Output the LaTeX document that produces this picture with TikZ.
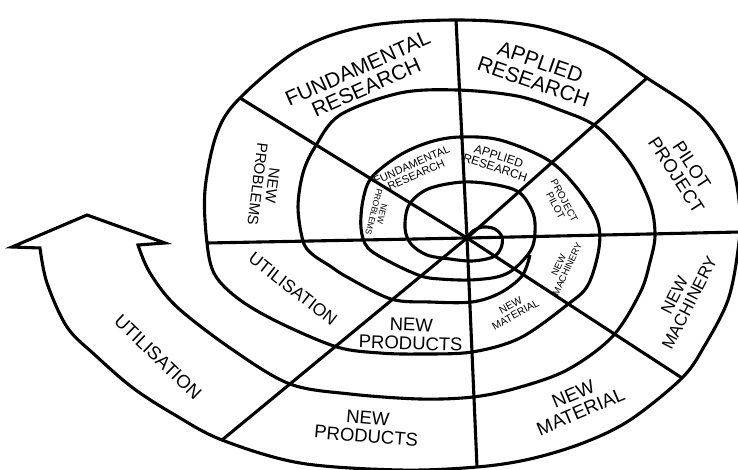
\documentclass[tikz,border=0pt]{standalone}
\usepackage{fontspec}
\setmainfont{Liberation Sans}
\usepackage{tikz}

\begin{document}
\begin{tikzpicture} [
    x=1pt, y=-1pt,
    spiral/.style = {line width=3.1pt, line join=miter},
    ray/.style = {line width=3.1pt},
    txt/.style = {align=center, inner sep=0pt, font=\fontsize{#1}{#1}\selectfont}
]
    \useasboundingbox (0,0) rectangle (738,470);

    \coordinate (c) at (467,238);
    \coordinate (eR) at (740,232);
    \coordinate (eUR) at (647,78);
    \coordinate (eU) at (456,20);
    \coordinate (eUL) at (240,98);
    \coordinate (eL) at (207,243);
    \coordinate (eLL) at (222,440);
    \coordinate (eD) at (477,467);
    \coordinate (eLR) at (682,378);

    \coordinate (barbL) at (12,247);
    \coordinate (tip) at (87,215);
    \coordinate (barbR) at (165,243);

    \foreach \e in {eR,eUR,eU,eUL,eL,eLL,eD,eLR}
        \draw[ray] (c) -- (\e);

    \draw[spiral] plot[smooth, tension=0.55] coordinates {
        (467,238) (473,231) (483,227) (495,229) (502,237) (501,248) (493,257)
        (472,261) (450,259) (427,255) (411,244) (405,228) (409,205) (428,189)
        (463,182) (497,185) (520,193) (533,213) (535,232) (531,250) (514,269)
        (497,277) (469,280) (440,279) (421,276) (392,263) (368,248) (361,228)
        (363,200) (372,177) (400,155) (430,142) (460,137) (500,140) (548,160)
        (577,188) (597,220) (599,248) (588,285) (567,305) (520,338) (472,352)
        (420,354) (380,353) (337,347) (280,323) (240,300) (215,275) (207,243)
        (205,190) (217,133) (240,98) (300,49) (367,26) (457,20) (535,26)
        (600,48) (647,78) (700,115) (730,160) (740,210) (738,250) (728,300)
        (705,345) (682,378) (630,420) (583,443) (530,459) (477,467) (400,470)
        (300,463) (222,440) (175,415) (133,388) (95,355) (67,327) (47,283)
        (40,248)}
        -- (barbL) -- (tip) -- (barbR)
        -- plot[smooth, tension=0.55] coordinates {
        (138,245) (150,273) (177,307) (233,350) (290,384) (350,394) (420,399)
        (473,397) (517,388) (567,370) (612,337) (640,293) (650,262) (655,235)
        (650,203) (630,163) (597,127) (560,110) (517,96) (457,90) (400,93)
        (340,115) (315,147) (303,173) (298,207) (303,241) (312,254) (330,266)
        (347,277) (391,299) (430,302) (472,302) (500,293) (522,276) (530,255)};

    \node[txt=21, rotate=24] (fr) at (362,78) {FUNDAMENTAL\\RESEARCH};
    \node[txt=21, rotate=-19] (ar) at (537,72) {APPLIED\\RESEARCH};
    \node[txt=18.5, rotate=-57] (pp) at (684,170) {PILOT\\PROJECT};
    \node[txt=17, rotate=63] (nmach) at (682,299) {NEW\\MACHINERY};
    \node[txt=19, rotate=23] (nmat) at (577,403) {NEW\\MATERIAL};
    \node[txt=18.5, rotate=-5] (np) at (367,427) {NEW\\PRODUCTS};
    \node[txt=18.5, rotate=-44] (util) at (158,357) {UTILISATION};

    \node[txt=15, rotate=-97] (npb2) at (265,185) {NEW\\PROBLEMS};
    \node[txt=17.5, rotate=-38] (util2) at (293,289) {UTILISATION};
    \node[txt=18.5, rotate=-2] (np2) at (411,334) {NEW\\PRODUCTS};

    \node[txt=11, rotate=24] (fr1) at (414,170) {FUNDAMENTAL\\RESEARCH};
    \node[txt=12, rotate=-18] (ar1) at (497,162) {APPLIED\\RESEARCH};
    \node[txt=10, rotate=-62] (pp1) at (560,203) {PROJECT\\PILOT};
    \node[txt=9.5, rotate=65] (nmach1) at (563,267) {NEW\\MACHINERY};
    \node[txt=10.5, rotate=29] (nmat1) at (513,310) {NEW\\MATERIAL};
    \node[txt=8.5, rotate=-104] (npb1) at (378,213) {NEW\\PROBLEMS};
\end{tikzpicture}
\end{document}
